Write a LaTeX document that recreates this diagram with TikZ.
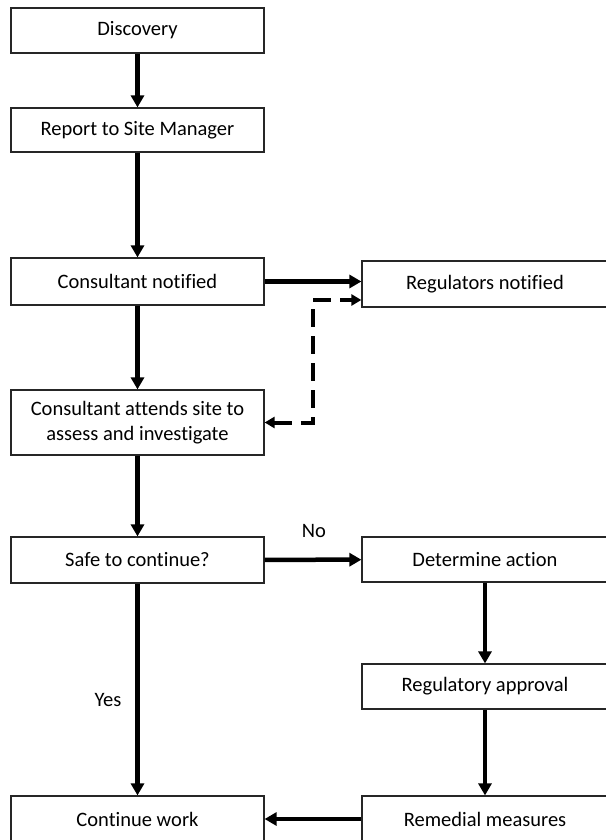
\documentclass[tikz,border=0pt]{standalone}
\usepackage{fontspec}
\setmainfont[Ligatures=CommonOff]{Carlito}
\usetikzlibrary{arrows.meta}
\usetikzlibrary{positioning}
\tikzset{
stepbox/.style={draw=black!85, line width=1.2pt, minimum width=253pt, minimum height=45pt, inner sep=0pt, align=center, font=\fontsize{20.5}{25}\selectfont},
flow/.style={line width=4.5pt, -{Triangle[length=12pt,width=13pt]}},
dflow/.style={line width=4pt, dash pattern=on 18pt off 9pt, {Triangle[length=10pt,width=11pt]}-{Triangle[length=10pt,width=11pt]}},
lbl/.style={font=\fontsize{20.5}{25}\selectfont}
}
\begin{document}
\begin{tikzpicture}[x=1pt,y=-1pt]
\useasboundingbox (0,0) rectangle (605,840);
\node[stepbox] (disc) at (137.5,30.5) {Discovery};
\node[stepbox, minimum height=44pt] (report) at (137.5,130) {Report to Site Manager};
\node[stepbox, minimum height=47pt] (cnot) at (137.5,281.5) {Consultant notified};
\node[stepbox, minimum width=246pt, minimum height=46pt] (regs) at (485,284) {Regulators notified};
\node[stepbox, minimum height=65pt] (attend) at (137.5,422.5) {Consultant attends site to\\assess and investigate};
\node[stepbox, minimum height=46pt] (safe) at (137.5,560) {Safe to continue?};
\node[stepbox, minimum width=246pt] (determ) at (485,559.5) {Determine action};
\node[stepbox, minimum width=246pt] (regapp) at (485,686.5) {Regulatory approval};
\node[stepbox, minimum height=46pt] (cont) at (137.5,819) {Continue work};
\node[stepbox, minimum width=246pt, minimum height=46pt] (remed) at (485,819) {Remedial measures};
\node[lbl] (no) at (314,531) {No};
\node[lbl] (yes) at (108,700) {Yes};
\coordinate (dbend) at (313,300);
\draw[flow] (disc) -- (report);
\draw[flow] (report) -- (cnot);
\draw[flow] (cnot.east) -- (cnot.east -| regs.west);
\draw[dflow] (attend.east) -| (dbend) -- (dbend -| regs.west);
\draw[flow] (cnot) -- (attend);
\draw[flow] (attend) -- (safe);
\draw[flow] (safe) -- (determ);
\draw[flow] (safe) -- (cont);
\draw[flow] (determ) -- (regapp);
\draw[flow] (regapp) -- (remed);
\draw[flow] (remed) -- (cont);
\end{tikzpicture}
\end{document}
